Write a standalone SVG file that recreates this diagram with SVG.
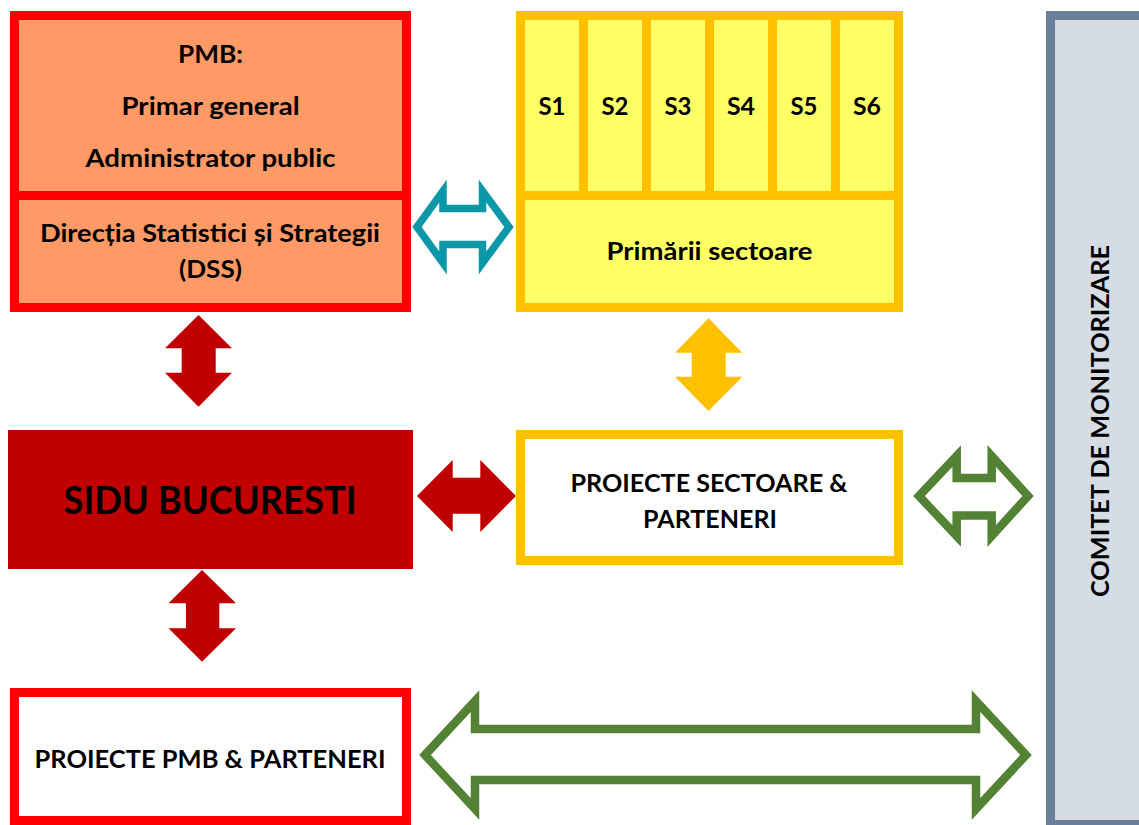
<svg xmlns="http://www.w3.org/2000/svg" width="1139" height="825" viewBox="0 0 1139 825">
<style>
text{font-family:Lato,"Liberation Sans",sans-serif;font-weight:bold;fill:#000;text-anchor:middle}
.t{font-size:24px}
.red{fill:#FF9966;stroke:#FF0000;stroke-width:9}
.yel{fill:#FFFF66;stroke:#FFC000;stroke-width:9}
.wr{fill:#FFFFFF;stroke:#FF0000;stroke-width:9}
.wy{fill:#FFFFFF;stroke:#FFC000;stroke-width:9}
.lr{stroke:#FF0000;stroke-width:9}
.ly{stroke:#FFC000;stroke-width:9}
</style>
<rect width="1139" height="825" fill="#FFFFFF"/>
<g id="pmb">
<rect class="red" x="14.5" y="15.5" width="392" height="292"/>
<line class="lr" x1="14.5" y1="195.5" x2="406.5" y2="195.5"/>
<text class="t" x="210.5" y="63" textLength="65" lengthAdjust="spacingAndGlyphs">PMB:</text>
<text class="t" x="210.5" y="115" textLength="178" lengthAdjust="spacingAndGlyphs">Primar general</text>
<text class="t" x="210.5" y="167" textLength="250" lengthAdjust="spacingAndGlyphs">Administrator public</text>
<text class="t" x="210" y="242" textLength="340" lengthAdjust="spacingAndGlyphs">Direcția Statistici și Strategii</text>
<text class="t" x="210.5" y="278" textLength="63" lengthAdjust="spacingAndGlyphs">(DSS)</text>
</g>
<g id="primarii">
<rect class="yel" x="520.5" y="15.5" width="378" height="292"/>
<line class="ly" x1="520.5" y1="195.5" x2="898.5" y2="195.5"/>
<line class="ly" x1="583.5" y1="15.5" x2="583.5" y2="195.5"/>
<line class="ly" x1="646.5" y1="15.5" x2="646.5" y2="195.5"/>
<line class="ly" x1="709.5" y1="15.5" x2="709.5" y2="195.5"/>
<line class="ly" x1="772.5" y1="15.5" x2="772.5" y2="195.5"/>
<line class="ly" x1="835.5" y1="15.5" x2="835.5" y2="195.5"/>
<text class="t" x="552" y="115" textLength="27" lengthAdjust="spacingAndGlyphs">S1</text>
<text class="t" x="615" y="115" textLength="27" lengthAdjust="spacingAndGlyphs">S2</text>
<text class="t" x="678" y="115" textLength="27" lengthAdjust="spacingAndGlyphs">S3</text>
<text class="t" x="741" y="115" textLength="28" lengthAdjust="spacingAndGlyphs">S4</text>
<text class="t" x="804" y="115" textLength="27" lengthAdjust="spacingAndGlyphs">S5</text>
<text class="t" x="867" y="115" textLength="28" lengthAdjust="spacingAndGlyphs">S6</text>
<text class="t" x="709.5" y="260" textLength="206" lengthAdjust="spacingAndGlyphs">Primării sectoare</text>
</g>
<g id="sidu">
<rect x="8" y="430" width="405" height="139" fill="#C00000"/>
<text x="210" y="514" font-size="38" textLength="293" lengthAdjust="spacingAndGlyphs">SIDU BUCURESTI</text>
</g>
<g id="proiecte-sectoare">
<rect class="wy" x="520.5" y="434.5" width="378" height="126"/>
<text class="t" x="709" y="492" textLength="277" lengthAdjust="spacingAndGlyphs">PROIECTE SECTOARE &amp;</text>
<text class="t" x="710" y="528" textLength="134" lengthAdjust="spacingAndGlyphs">PARTENERI</text>
</g>
<g id="proiecte-pmb">
<rect class="wr" x="14.5" y="692.5" width="392" height="128"/>
<text class="t" x="210" y="768" textLength="351" lengthAdjust="spacingAndGlyphs">PROIECTE PMB &amp; PARTENERI</text>
</g>
<g id="comitet">
<rect x="1050.5" y="15.5" width="100" height="809" fill="#D6DCE4" stroke="#6A7F99" stroke-width="9"/>
<text class="t" transform="translate(1109 421) rotate(-90)" x="0" y="0" textLength="352" lengthAdjust="spacingAndGlyphs">COMITET DE MONITORIZARE</text>
</g>
<g id="connectors">
<path d="M417,227 L443,191 L443,208.5 L482.5,208.5 L482.5,191 L509,227 L482.5,263 L482.5,244.5 L443,244.5 L443,263 Z" fill="#FFFFFF" stroke="#0A97A8" stroke-width="7.5"/>
<polygon points="198.5,315 232,348.3 215.7,348.3 215.7,372.7 232,372.7 198.5,406.7 165,372.7 181.7,372.7 181.7,348.3 165,348.3" fill="#C00000"/>
<polygon points="708.5,318.3 742.3,352.7 725.7,352.7 725.7,376.7 742.3,376.7 708.5,411 675,376.7 691.7,376.7 691.7,352.7 675,352.7" fill="#FFC000"/>
<polygon points="417,496 452.7,460 452.7,477.7 480.3,477.7 480.3,460 516,496 480.3,532 480.3,513.7 452.7,513.7 452.7,532" fill="#C00000"/>
<polygon points="202,570 236,603.3 219.3,603.3 219.3,628.3 236,628.3 202,661.7 168.5,628.3 186,628.3 186,603.3 168.5,603.3" fill="#C00000"/>
<path d="M919,496 L956.7,456 L956.7,478 L991.7,478 L991.7,456 L1028,496 L991.7,536 L991.7,515.5 L956.7,515.5 L956.7,536 Z" fill="#FFFFFF" stroke="#548235" stroke-width="8.5"/>
<path d="M425,755 L475,701 L475,729 L976,729 L976,701 L1026,755 L976,809 L976,780 L475,780 L475,809 Z" fill="#FFFFFF" stroke="#548235" stroke-width="8.5"/>
</g>
</svg>
